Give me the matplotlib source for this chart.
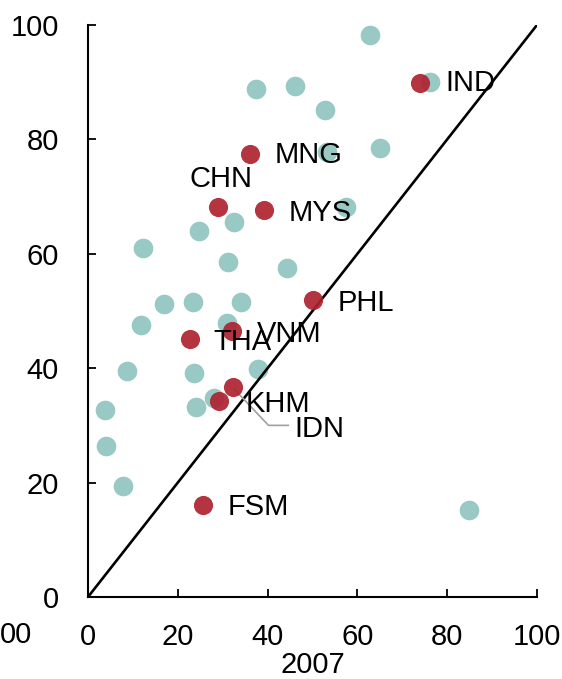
import matplotlib
matplotlib.use('Agg')
import matplotlib.pyplot as plt
import numpy as np

plt.rcParams['font.family'] = ['Liberation Sans Narrow', 'Liberation Sans', 'DejaVu Sans']

# other economies (teal)
other_x = [62.8, 76.2, 37.4, 46.1, 52.8, 65.0, 53.2, 57.5, 32.5, 24.7, 12.2, 31.2, 44.3,
           16.9, 23.4, 34.1, 11.8, 31.0, 8.7, 23.6, 37.9, 28.1, 24.0, 3.8, 4.0, 7.8, 84.9]
other_y = [98.3, 90.0, 88.8, 89.3, 85.1, 78.5, 77.8, 68.2, 65.6, 64.0, 61.0, 58.6, 57.5,
           51.2, 51.6, 51.6, 47.6, 47.9, 39.5, 39.2, 39.9, 34.8, 33.2, 32.7, 26.4, 19.4, 15.2]

# highlighted economies (red)
names = ['IND', 'MNG', 'CHN', 'MYS', 'PHL', 'VNM', 'THA', 'KHM', 'IDN', 'FSM']
hl_x = [73.9, 36.1, 29.0, 39.2, 50.1, 32.1, 22.7, 32.3, 29.2, 25.6]
hl_y = [89.9, 77.4, 68.2, 67.7, 51.9, 46.5, 45.1, 36.7, 34.3, 16.1]
# label anchor positions (left edge, vertical centre)
lab_x = [79.5, 41.5, 22.5, 44.7, 55.6, 37.6, 28.0, 35.0, 46.0, 31.0]
lab_y = [89.8, 77.2, 73.0, 67.2, 51.4, 46.0, 44.6, 33.8, 29.4, 15.8]

fig = plt.figure(figsize=(5.62, 6.79), dpi=100)
ax = fig.add_axes([0.1566, 0.1208, 0.7989, 0.8424])

ax.scatter(other_x, other_y, s=200, color='#94C6C2', alpha=0.95, linewidths=0, zorder=2)
ax.plot([0, 100], [0, 100], color='black', lw=1.9, zorder=3)
ax.scatter(hl_x, hl_y, s=190, color='#AE2330', alpha=0.92, linewidths=0, zorder=4)

# leader line for IDN
ax.plot([32.5, 40.2, 44.6], [36.4, 30.0, 30.0], color='#A0A0A0', lw=1.2, zorder=3)

for n, x, y in zip(names, lab_x, lab_y):
    ax.text(x, y, n, fontsize=21, ha='left', va='center', zorder=5)

ax.set_xlim(0, 100)
ax.set_ylim(0, 100)
ax.set_xticks(np.arange(0, 101, 20))
ax.set_yticks(np.arange(0, 101, 20))
ax.spines['top'].set_visible(False)
ax.spines['right'].set_visible(False)
for s in ['left', 'bottom']:
    ax.spines[s].set_linewidth(1.5)
ax.tick_params(direction='in', length=6, width=1.3, labelsize=21)
ax.tick_params(axis='y', pad=21)
ax.tick_params(axis='x', pad=19)
ax.set_xlabel('2007', fontsize=21, labelpad=0)

fig.text(0.0, 0.935 - 0.87, '00', fontsize=21, ha='left', va='center')

fig.savefig('out.png', dpi=100)
